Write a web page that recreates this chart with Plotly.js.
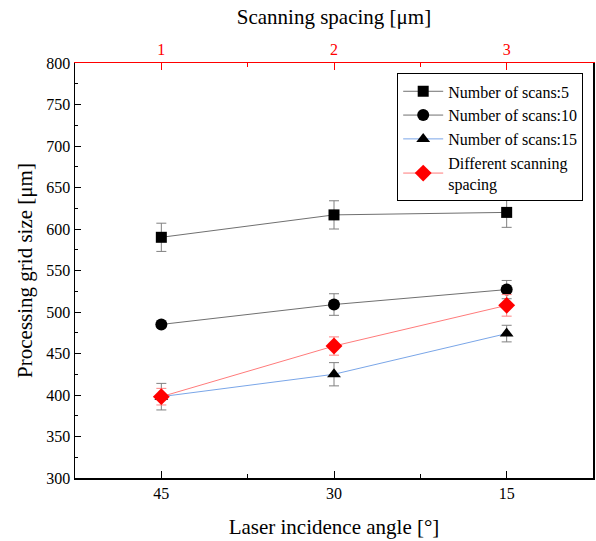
<!DOCTYPE html>
<html><head><meta charset="utf-8">
<script src="https://cdn.plot.ly/plotly-3.0.1.min.js"></script>
<style>
html,body{margin:0;padding:0;background:#fff}
</style>
</head><body>
<div id="chart" style="width:596px;height:541px"></div>
<script>
const angleLabels = ['45', '30', '15'];
const spacingLabels = ['1', '2', '3'];
const xIndex = [0, 1, 2];
const scans5 = [590, 617, 620];
const scans5Err = [17, 17, 18];
const scans10 = [485, 509, 527];
const scans10Err = [2, 13, 11];
const scans15 = [398, 425, 474];
const scans15Err = [16, 14, 10];
const spacingVals = [398, 459, 508];
const spacingErr = [10, 11, 13];

const font = 'Liberation Serif';
function tr(name, y, err, lineColor, errColor, symbol, mcolor, size) {
  return {
    x: xIndex, y: y, name: name, type: 'scatter', mode: 'lines+markers',
    line: {color: lineColor, width: 1},
    marker: {symbol: symbol, color: mcolor, size: size},
    error_y: {type: 'data', array: err, visible: true, color: errColor, thickness: 1, width: 5}
  };
}
const data = [
  tr('Number of scans:5', scans5, scans5Err, '#707070', '#808080', 'square', '#000', 11),
  tr('Number of scans:10', scans10, scans10Err, '#707070', '#808080', 'circle', '#000', 12),
  tr('Number of scans:15', scans15, scans15Err, '#7aa6e8', '#808080', 'triangle-up', '#000', 12),
  tr('Different scanning<br>spacing', spacingVals, spacingErr, '#ff7b7b', '#ff8080', 'diamond', '#ff0000', 13),
  {x: xIndex, y: spacingVals, xaxis: 'x2', yaxis: 'y', mode: 'markers', marker: {opacity: 0}, showlegend: false, hoverinfo: 'skip'}
];
const layout = {
  width: 596, height: 541,
  margin: {l: 75, r: 3, t: 63, b: 63, autoexpand: false},
  paper_bgcolor: '#fff', plot_bgcolor: '#fff',
  font: {family: font, size: 16, color: '#000'},
  showlegend: true,
  legend: {x: 0.622, y: 0.975, xanchor: 'left', yanchor: 'top', bordercolor: '#000', borderwidth: 1,
    bgcolor: '#fff', font: {family: font, size: 16}, tracegroupgap: 0, itemwidth: 40},
  xaxis: {
    range: [-0.5, 2.5], tickmode: 'array', tickvals: xIndex, ticktext: angleLabels,
    showline: true, linecolor: '#000', linewidth: 1.5, ticks: 'inside', ticklen: 7, tickcolor: '#000',
    minor: {tickvals: [0.5, 1.5], ticks: 'inside', ticklen: 4, tickcolor: '#000'},
    showgrid: false, zeroline: false,
    title: {text: 'Laser incidence angle [°]', font: {family: font, size: 21}, standoff: 18},
    tickfont: {family: font, size: 16}
  },
  xaxis2: {
    overlaying: 'x', side: 'top', range: [-0.5, 2.5], tickmode: 'array', tickvals: xIndex, ticktext: spacingLabels,
    showline: true, linecolor: '#ff0000', linewidth: 1.5, ticks: 'inside', ticklen: 7, tickcolor: '#ff0000',
    minor: {tickvals: [0.5, 1.5], ticks: 'inside', ticklen: 4, tickcolor: '#ff0000'},
    showgrid: false, zeroline: false,
    tickfont: {family: font, size: 16, color: '#ff0000'},
    title: {text: 'Scanning spacing [μm]', font: {family: font, size: 21, color: '#000'}, standoff: 10}
  },
  yaxis: {
    range: [300, 800], dtick: 50, showline: true, mirror: true, linecolor: '#000', linewidth: 1.5,
    ticks: 'inside', ticklen: 6, tickcolor: '#000',
    minor: {dtick: 25, ticks: 'inside', ticklen: 3, tickcolor: '#000'},
    showgrid: false, zeroline: false,
    title: {text: 'Processing grid size [μm]', font: {family: font, size: 21}, standoff: 8},
    tickfont: {family: font, size: 16}
  }
};
Plotly.newPlot('chart', data, layout, {displayModeBar: false, staticPlot: true});
</script>
</body></html>
